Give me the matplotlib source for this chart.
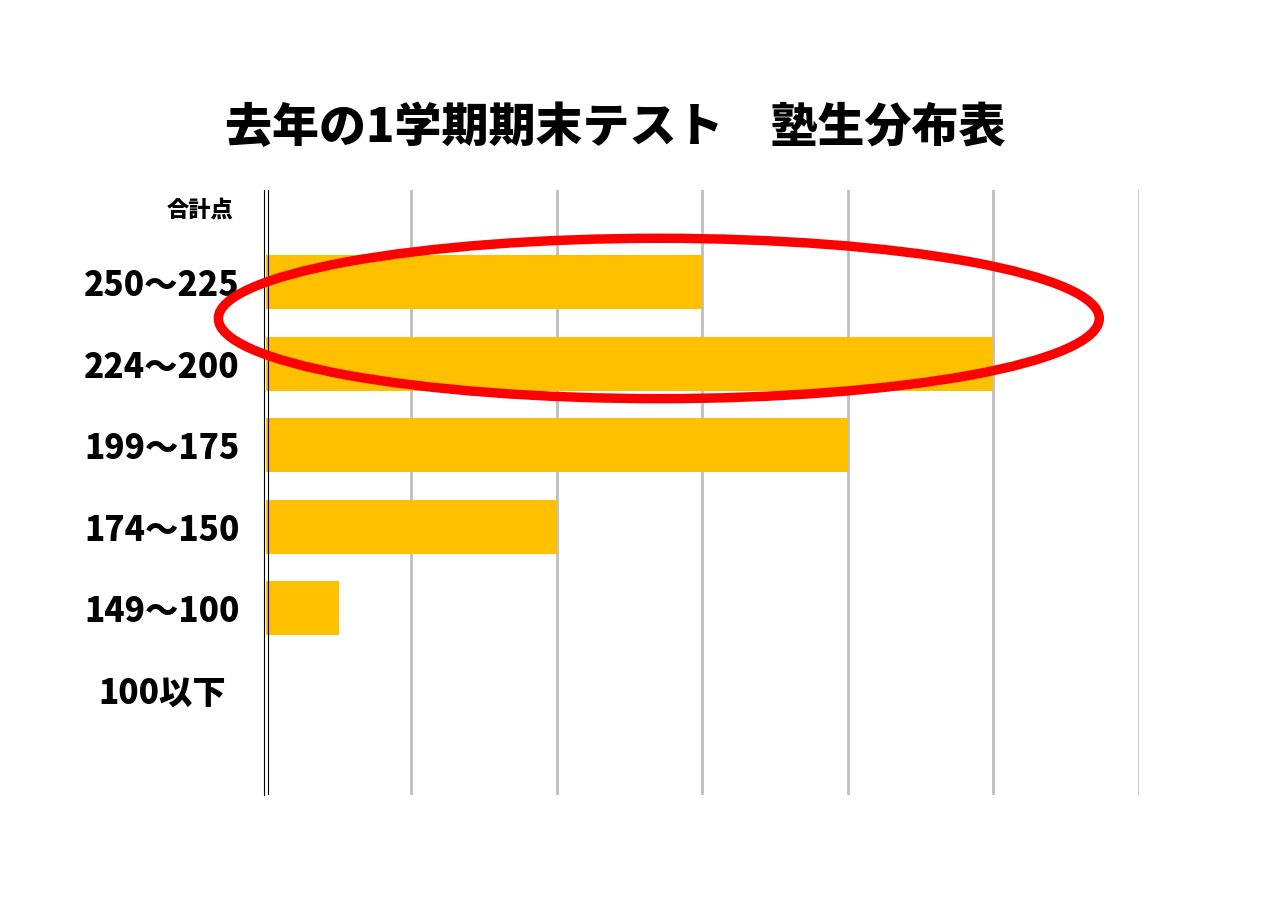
import matplotlib.pyplot as plt
from matplotlib.patches import Ellipse

plt.rcParams['font.family'] = ['Noto Sans CJK JP', 'DejaVu Sans']

# データ
categories = ['250～225', '224～200', '199～175', '174～150', '149～100', '100以下']
counts = [3, 5, 4, 2, 0.5, 0]
title = '去年の1学期期末テスト　塾生分布表'

fig = plt.figure(figsize=(12.8, 9.05), dpi=100)
ax = fig.add_axes([0.2078, 0.1215, 0.682, 0.6685])

y = list(range(len(categories)))
ax.barh(y, counts, height=0.66, color='#FFC000', zorder=2)

ax.set_xlim(0, 6)
ax.set_ylim(6.29, -1.13)

# 縦グリッド線
for gx in range(1, 7):
    ax.axvline(gx, color='#bfbfbf', lw=2, zorder=1)
# 二重線の軸
ax.axvline(-0.011, color='black', lw=0.8, zorder=3, clip_on=False)
ax.axvline(0.011, color='black', lw=0.8, zorder=3)

for s in ax.spines.values():
    s.set_visible(False)
ax.set_xticks([])
ax.set_yticks(y)
ax.set_yticklabels(categories, fontsize=24, fontweight='heavy')
ax.tick_params(axis='y', length=0, pad=75)
for lbl in ax.get_yticklabels():
    lbl.set_horizontalalignment('center')

# 見出し
fig.text(200 / 1280, 1 - 210 / 905, '合計点', fontsize=16, fontweight='heavy',
         ha='center', va='center')
fig.text(615 / 1280, 1 - 128 / 905, title, fontsize=33.8, fontweight='heavy',
         ha='center', va='center')

# 赤い楕円
ell = Ellipse((2.70, 0.445), 6.055, 1.967, fill=False, edgecolor='#ff0000',
              lw=6.8, zorder=4, clip_on=False)
ax.add_patch(ell)

fig.savefig('out.png', dpi=100, facecolor='white')
